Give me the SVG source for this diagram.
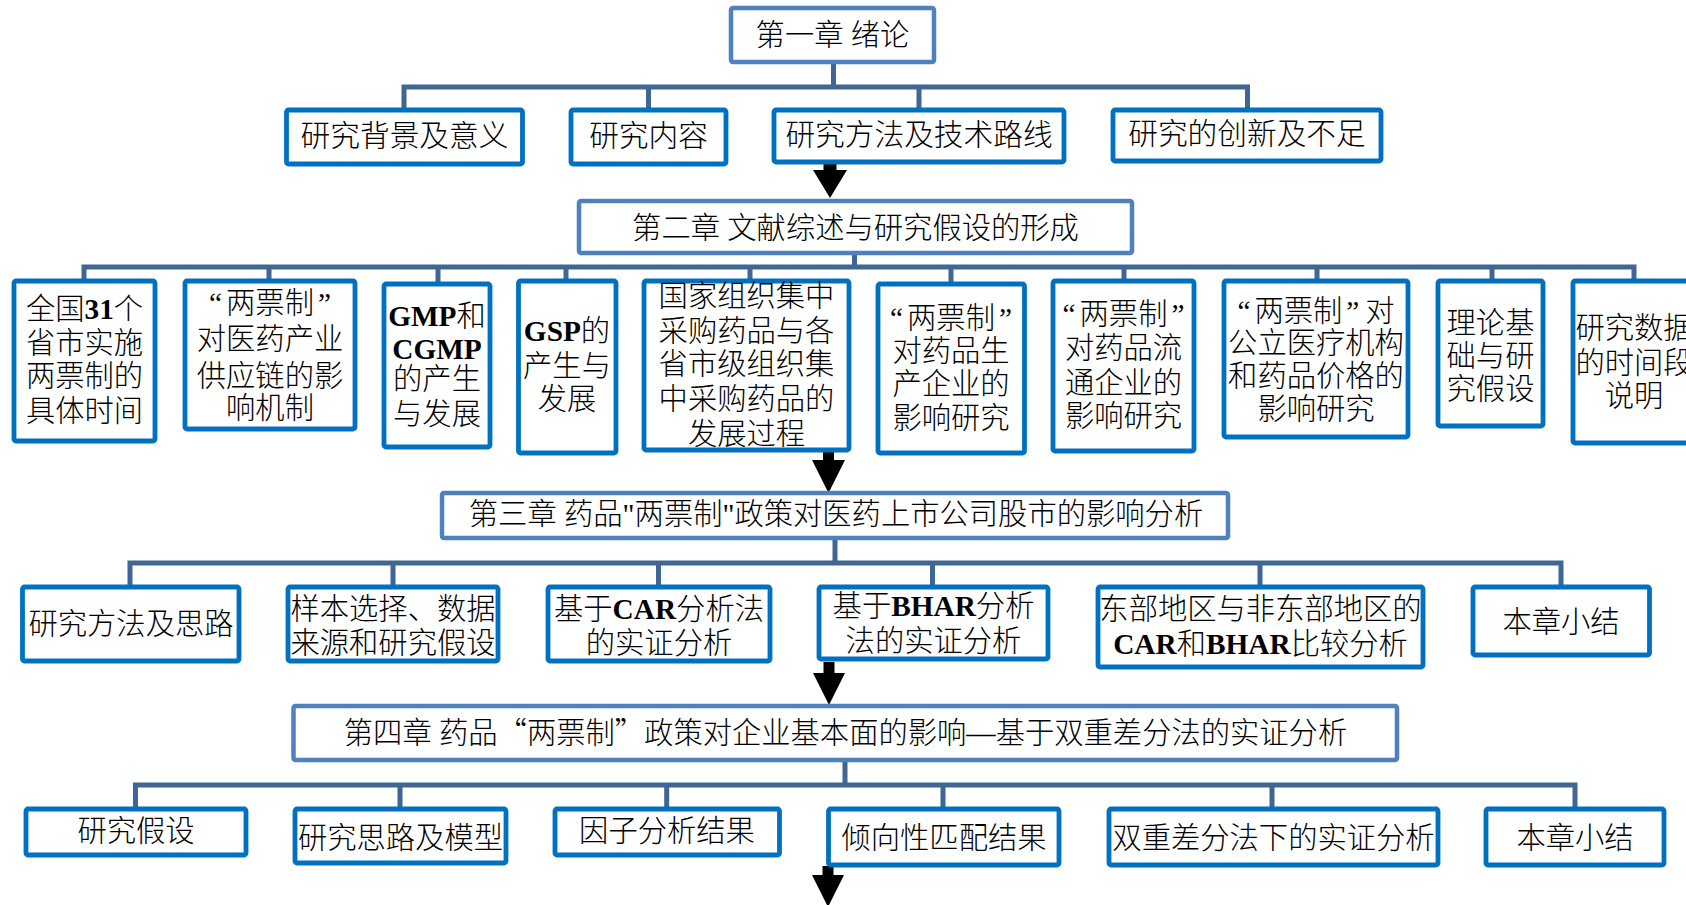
<svg xmlns="http://www.w3.org/2000/svg" width="1686" height="905" viewBox="0 0 1686 905">
<style>
.ch{fill:#fff;stroke:#4F81BD;stroke-width:4.5}
.bx{fill:#fff;stroke:#0070C0;stroke-width:4.8}
.t{font-family:"Liberation Serif","Noto Sans CJK SC",serif;font-size:29.3px;font-weight:300;fill:#000;text-anchor:middle}
.l1{font-size:29.7px}
.b{font-weight:bold}
.q{font-family:"Noto Sans CJK SC",sans-serif}
.cn{fill:none;stroke:#3F6694;stroke-width:5;stroke-linejoin:miter}
.ar{fill:#000}
</style>
<rect width="1686" height="905" fill="#fff"/>
<g id="connectors">
<path class="cn" d="M833.5 64 V87 M404 108 V87 H1247.5 V108 M648.5 87 V108 M919 87 V108"/>
<path class="cn" d="M854.5 255 V267 M84 279 V267 H1634 V279 M269 267 V279 M438 267 V282 M566 267 V279 M750 267 V279 M951 267 V282 M1124 267 V279 M1317 267 V279 M1492 267 V279"/>
<path class="cn" d="M835 540 V563 M130 585 V563 H1561 V585 M393 563 V585 M658.5 563 V585 M932.5 563 V585 M1260 563 V585"/>
<path class="cn" d="M845 762 V785 M135.5 807 V785 H1575 V807 M400 785 V807 M666.7 785 V807 M943 785 V807 M1272 785 V807"/>
<polygon class="ar" points="823.5,164 836.5,164 836.5,170 847,170 830,198 813,170 823.5,170"/>
<polygon class="ar" points="823,451 834,451 834,460 845,460 828.5,493 812,460 823,460"/>
<polygon class="ar" points="823.5,662 834.5,662 834.5,673 845,673 829,705 813,673 823.5,673"/>
<polygon class="ar" points="822.5,866 833.5,866 833.5,875 844,875 828,907 812,875 822.5,875"/>
</g>
<g id="ch1"><rect class="ch" x="731" y="8" width="203" height="54" rx="2"/><text class="t" x="832.5" y="44.5">第一章 绪论</text></g>
<g id="n1a"><rect class="bx" x="286.5" y="110" width="236" height="54" rx="2"/><text class="t l1" x="404.5" y="145.5">研究背景及意义</text></g>
<g id="n1b"><rect class="bx" x="571" y="110" width="155" height="54" rx="2"/><text class="t l1" x="648.5" y="145.5">研究内容</text></g>
<g id="n1c"><rect class="bx" x="774" y="110" width="290" height="52" rx="2"/><text class="t l1" x="919" y="144.5">研究方法及技术路线</text></g>
<g id="n1d"><rect class="bx" x="1113" y="110" width="268" height="51" rx="2"/><text class="t l1" x="1247" y="143.5">研究的创新及不足</text></g>
<g id="ch2"><rect class="ch" x="579" y="201" width="553" height="52" rx="2"/><text class="t" x="855.5" y="237.5">第二章 文献综述与研究假设的形成</text></g>
<g id="n2a"><rect class="bx" x="14" y="281" width="141" height="160" rx="2"/><text class="t" x="84.5"><tspan x="84.5" y="318.5">全国<tspan class="b">31</tspan>个</tspan><tspan x="84.5" y="352.5">省市实施</tspan><tspan x="84.5" y="385.5">两票制的</tspan><tspan x="84.5" y="420.5">具体时间</tspan></text></g>
<g id="n2b"><rect class="bx" x="185" y="281" width="170" height="148" rx="2"/><text class="t" x="270"><tspan x="270" y="312.5">“<tspan dx="4">两票制</tspan><tspan dx="4">”</tspan></tspan><tspan x="270" y="348.5">对医药产业</tspan><tspan x="270" y="385.5">供应链的影</tspan><tspan x="270" y="417.5">响机制</tspan></text></g>
<g id="n2c"><rect class="bx" x="384" y="284" width="106" height="163" rx="2"/><text class="t" x="437"><tspan x="437" y="325.5"><tspan class="b">GMP</tspan>和</tspan><tspan class="b" x="437" y="358.5">CGMP</tspan><tspan x="437" y="388.5">的产生</tspan><tspan x="437" y="423.5">与发展</tspan></text></g>
<g id="n2d"><rect class="bx" x="518.5" y="281" width="97.5" height="172" rx="2"/><text class="t" x="567"><tspan x="567" y="340.5"><tspan class="b">GSP</tspan>的</tspan><tspan x="567" y="375.5">产生与</tspan><tspan x="567" y="408.5">发展</tspan></text></g>
<g id="n2e"><rect class="bx" x="644" y="281" width="205" height="169" rx="2"/><text class="t" x="746.5"><tspan x="746.5" y="305.5">国家组织集中</tspan><tspan x="746.5" y="340.5">采购药品与各</tspan><tspan x="746.5" y="373.5">省市级组织集</tspan><tspan x="746.5" y="408.5">中采购药品的</tspan><tspan x="746.5" y="443.5">发展过程</tspan></text></g>
<g id="n2f"><rect class="bx" x="878" y="284" width="146.5" height="169" rx="2"/><text class="t" x="951"><tspan x="951" y="327.5">“<tspan dx="4">两票制</tspan><tspan dx="4">”</tspan></tspan><tspan x="951" y="360.5">对药品生</tspan><tspan x="951" y="393.5">产企业的</tspan><tspan x="951" y="427.5">影响研究</tspan></text></g>
<g id="n2g"><rect class="bx" x="1053" y="281" width="141" height="170" rx="2"/><text class="t" x="1123.5"><tspan x="1123.5" y="323.5">“<tspan dx="4">两票制</tspan><tspan dx="4">”</tspan></tspan><tspan x="1123.5" y="357.5">对药品流</tspan><tspan x="1123.5" y="392.5">通企业的</tspan><tspan x="1123.5" y="425.5">影响研究</tspan></text></g>
<g id="n2h"><rect class="bx" x="1224" y="281" width="184" height="156" rx="2"/><text class="t" x="1316"><tspan x="1316" y="320.5">“<tspan dx="4">两票制</tspan><tspan dx="4">”</tspan><tspan dx="6">对</tspan></tspan><tspan x="1316" y="352.5">公立医疗机构</tspan><tspan x="1316" y="385.5">和药品价格的</tspan><tspan x="1316" y="418.5">影响研究</tspan></text></g>
<g id="n2i"><rect class="bx" x="1438" y="281" width="105" height="145" rx="2"/><text class="t" x="1490.5"><tspan x="1490.5" y="332.5">理论基</tspan><tspan x="1490.5" y="365.5">础与研</tspan><tspan x="1490.5" y="398.5">究假设</tspan></text></g>
<g id="n2j"><rect class="bx" x="1573" y="281" width="122" height="162" rx="2"/><text class="t" x="1634"><tspan x="1634" y="337.5">研究数据</tspan><tspan x="1634" y="372.5">的时间段</tspan><tspan x="1634" y="405.5">说明</tspan></text></g>
<g id="ch3"><rect class="ch" x="442" y="493" width="786" height="45" rx="2"/><text class="t" x="836" y="523.5">第三章 药品"两票制"政策对医药上市公司股市的影响分析</text></g>
<g id="n3a"><rect class="bx" x="22.5" y="587" width="216.5" height="74" rx="2"/><text class="t" x="131" y="633.5">研究方法及思路</text></g>
<g id="n3b"><rect class="bx" x="288" y="587" width="210" height="74" rx="2"/><text class="t" x="393"><tspan x="393" y="618.5">样本选择、数据</tspan><tspan x="393" y="652.5">来源和研究假设</tspan></text></g>
<g id="n3c"><rect class="bx" x="548" y="587" width="222" height="74" rx="2"/><text class="t" x="659"><tspan x="659" y="618.5">基于<tspan class="b">CAR</tspan>分析法</tspan><tspan x="659" y="652.5">的实证分析</tspan></text></g>
<g id="n3d"><rect class="bx" x="819" y="587" width="229" height="72" rx="2"/><text class="t" x="933.5"><tspan x="933.5" y="615.5">基于<tspan class="b">BHAR</tspan>分析</tspan><tspan x="933.5" y="650.5">法的实证分析</tspan></text></g>
<g id="n3e"><rect class="bx" x="1098" y="587" width="325" height="80" rx="2"/><text class="t" x="1260.5"><tspan x="1260.5" y="618.5">东部地区与非东部地区的</tspan><tspan x="1260.5" y="653.5"><tspan class="b">CAR</tspan>和<tspan class="b">BHAR</tspan>比较分析</tspan></text></g>
<g id="n3f"><rect class="bx" x="1473" y="587" width="176.5" height="68" rx="2"/><text class="t" x="1561" y="631.5">本章小结</text></g>
<g id="ch4"><rect class="ch" x="293.5" y="706" width="1103.5" height="54" rx="2"/><text class="t" x="845.5" y="742.5">第四章 药品<tspan class="q">“</tspan>两票制<tspan class="q">”</tspan>政策对企业基本面的影响—基于双重差分法的实证分析</text></g>
<g id="n4a"><rect class="bx" x="26" y="809" width="220" height="46" rx="2"/><text class="t" x="136" y="840.5">研究假设</text></g>
<g id="n4b"><rect class="bx" x="295" y="809" width="211" height="54" rx="2"/><text class="t" x="400.5" y="847.5">研究思路及模型</text></g>
<g id="n4c"><rect class="bx" x="555" y="809" width="224.5" height="46" rx="2"/><text class="t" x="667" y="840.5">因子分析结果</text></g>
<g id="n4d"><rect class="bx" x="828.5" y="809" width="230.5" height="56" rx="2"/><text class="t" x="944" y="847.5">倾向性匹配结果</text></g>
<g id="n4e"><rect class="bx" x="1109" y="809" width="329" height="56" rx="2"/><text class="t" x="1273.5" y="847.5">双重差分法下的实证分析</text></g>
<g id="n4f"><rect class="bx" x="1486" y="809" width="178" height="56" rx="2"/><text class="t" x="1575" y="847.5">本章小结</text></g>
</svg>
